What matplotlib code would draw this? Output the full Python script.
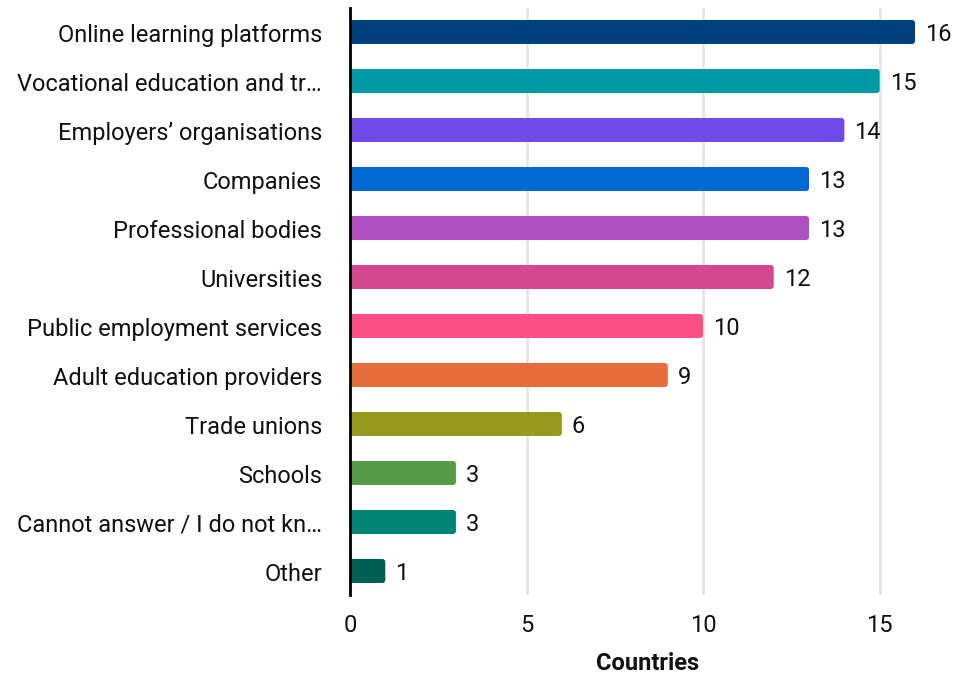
import matplotlib
matplotlib.use("Agg")
import matplotlib.pyplot as plt
from matplotlib.patches import FancyBboxPatch

plt.rcParams['font.family'] = ['Roboto', 'DejaVu Sans']

categories = [
    "Online learning platforms",
    "Vocational education and tr…",
    "Employers’ organisations",
    "Companies",
    "Professional bodies",
    "Universities",
    "Public employment services",
    "Adult education providers",
    "Trade unions",
    "Schools",
    "Cannot answer / I do not kn…",
    "Other",
]
values = [16, 15, 14, 13, 13, 12, 10, 9, 6, 3, 3, 1]
colors = [
    "#00407F", "#0099A6", "#704AE8", "#0068D4", "#AE4FC2", "#D64792",
    "#FF4F87", "#E86D3C", "#979A1E", "#569B48", "#008575", "#005F53",
]
xticks = [0, 5, 10, 15]
xlabel = "Countries"

fs = 17
fig = plt.figure(figsize=(9.55, 6.73), dpi=100)
ax = fig.add_axes([350 / 955, 1 - 595 / 673, 565 / 955, 587 / 673])

bar_h = 0.49
xmax = 16
ax.set_xlim(0, xmax)
ax.set_ylim(len(categories) - 0.51, -0.49)

# px per data unit, used to keep corner rounding circular
px_x = 565 / xmax
px_y = 587 / len(categories)
radius = 3.0 / px_x

for i, (v, c) in enumerate(zip(values, colors)):
    patch = FancyBboxPatch(
        (0, i - bar_h / 2), v, bar_h,
        boxstyle=f"round,pad=0,rounding_size={radius}",
        mutation_aspect=px_x / px_y,
        facecolor=c, edgecolor="none", zorder=3,
    )
    ax.add_patch(patch)
    ax.text(v + 10 / px_x, i + 0.05, str(v), va="center", ha="left",
            fontsize=fs, color="#111111", clip_on=False, zorder=4)

ax.set_yticks([i + 0.02 for i in range(len(categories))])
ax.set_yticklabels(categories, fontsize=fs, color="#111111")
ax.set_xticks(xticks)
ax.set_xticklabels([str(t) for t in xticks], fontsize=fs, color="#111111")
ax.tick_params(axis="y", length=0, pad=20)
ax.tick_params(axis="x", length=0, pad=14)

for t in xticks[1:]:
    ax.axvline(t, color="#e6e6e6", linewidth=2, zorder=1)

for side in ["top", "right", "bottom"]:
    ax.spines[side].set_visible(False)
ax.spines["left"].set_linewidth(2)
ax.spines["left"].set_color("black")
ax.spines["left"].set_zorder(5)

ax.set_xlabel(xlabel, fontsize=17, fontweight="bold", color="#111111")
ax.xaxis.set_label_coords((648 - 350) / 565, -(663 - 595) / 587, transform=ax.transAxes)
ax.xaxis.label.set_va("center")

fig.savefig("out.png", dpi=100)
